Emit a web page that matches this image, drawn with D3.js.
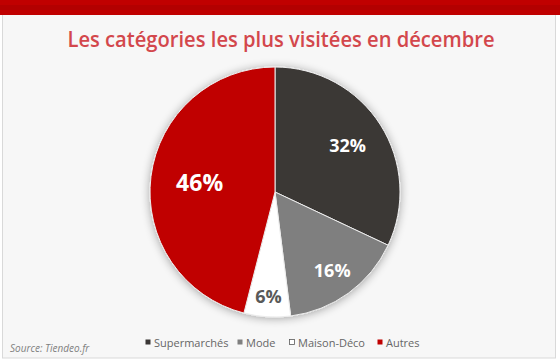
<!DOCTYPE html>
<html>
<head>
<meta charset="utf-8">
<script src="https://cdn.jsdelivr.net/npm/d3@7"></script>
<style>
  html, body { margin: 0; padding: 0; background: #fff; }
  svg { display: block; }
</style>
</head>
<body>
<svg id="chart" width="560" height="363"></svg>
<script>
// chart data
const categories = ['Supermarchés', 'Mode', 'Maison-Déco', 'Autres'];
const shares = [32, 16, 6, 46];
const sliceColors = ['#3b3735', '#7f7f7f', '#ffffff', '#c00000'];
const labelColors = ['#ffffff', '#ffffff', '#595959', '#ffffff'];
const title = 'Les catégories les plus visitées en décembre';
const source = 'Source: Tiendeo.fr';

const W = 560, H = 363;
const svg = d3.select('#chart');

// frame
svg.append('rect').attr('x', 0).attr('y', 0).attr('width', W).attr('height', H).attr('fill', '#ffffff');
svg.append('rect').attr('x', 2.5).attr('y', 14).attr('width', 553).attr('height', 344)
  .attr('fill', '#f7f7f7').attr('stroke', '#d9d9d9').attr('stroke-width', 1);
svg.append('rect').attr('x', 0).attr('y', 0).attr('width', W).attr('height', 15).attr('fill', '#c00000');
svg.append('rect').attr('x', 0).attr('y', 5).attr('width', W).attr('height', 5).attr('fill', '#b30000');

svg.append('text').attr('x', 281).attr('y', 47).attr('text-anchor', 'middle')
  .attr('font-family', 'Open Sans, sans-serif').attr('font-weight', 600).attr('font-size', 21)
  .attr('textLength', 427).attr('lengthAdjust', 'spacingAndGlyphs')
  .attr('fill', '#d3474c').text(title);

// pie
const cx = 275, cy = 192, R = 125;
const defs = svg.append('defs');
const f = defs.append('filter').attr('id', 'shadow').attr('x', '-20%').attr('y', '-20%').attr('width', '140%').attr('height', '140%');
f.append('feGaussianBlur').attr('in', 'SourceAlpha').attr('stdDeviation', 5).attr('result', 'b');
f.append('feOffset').attr('in', 'b').attr('dx', 0).attr('dy', 1).attr('result', 'o');
f.append('feComponentTransfer').attr('in', 'o').attr('result', 's')
  .append('feFuncA').attr('type', 'linear').attr('slope', 0.35);
const fm = f.append('feMerge');
fm.append('feMergeNode').attr('in', 's');
fm.append('feMergeNode').attr('in', 'SourceGraphic');

const pie = d3.pie().value(d => d).sort(null);
const arcs = pie(shares);
const arc = d3.arc().innerRadius(0).outerRadius(R);
const g = svg.append('g').attr('transform', `translate(${cx},${cy})`);

g.append('g').attr('filter', 'url(#shadow)')
  .selectAll('path').data(arcs).join('path')
  .attr('d', arc)
  .attr('fill', (d, i) => sliceColors[i])
  .attr('stroke', '#ececec').attr('stroke-width', 1);

// labels: smaller slices sit further out, as Excel's best fit does
const labelR = v => R * (0.87 - 0.0057 * v);
g.selectAll('text.lbl').data(arcs).join('text').attr('class', 'lbl')
  .attr('transform', d => {
    const a = (d.startAngle + d.endAngle) / 2, r = labelR(d.value);
    return `translate(${r * Math.sin(a)},${-r * Math.cos(a)})`;
  })
  .attr('text-anchor', 'middle').attr('dy', '0.36em')
  .attr('font-family', 'Open Sans, sans-serif').attr('font-weight', 700)
  .attr('font-size', d => d.value > 40 ? 23 : 18)
  .attr('fill', (d, i) => labelColors[i])
  .text(d => d.value + '%');

// legend
const legendX = [145, 237, 289, 377];
const lg = svg.append('g').attr('font-family', 'Open Sans, sans-serif').attr('font-size', 11).attr('fill', '#666666');
categories.forEach((c, i) => {
  lg.append('rect').attr('x', legendX[i] + 0.5).attr('y', 339.5).attr('width', 5).attr('height', 5)
    .attr('fill', sliceColors[i]).attr('stroke', i === 2 ? '#595959' : 'none').attr('stroke-width', 0.8);
  lg.append('text').attr('x', legendX[i] + 9).attr('y', 347).text(c);
});

svg.append('text').attr('x', 10).attr('y', 352)
  .attr('font-family', 'Open Sans, sans-serif').attr('font-style', 'italic').attr('font-size', 10)
  .attr('fill', '#7f7f7f').text(source);
</script>
</body>
</html>
